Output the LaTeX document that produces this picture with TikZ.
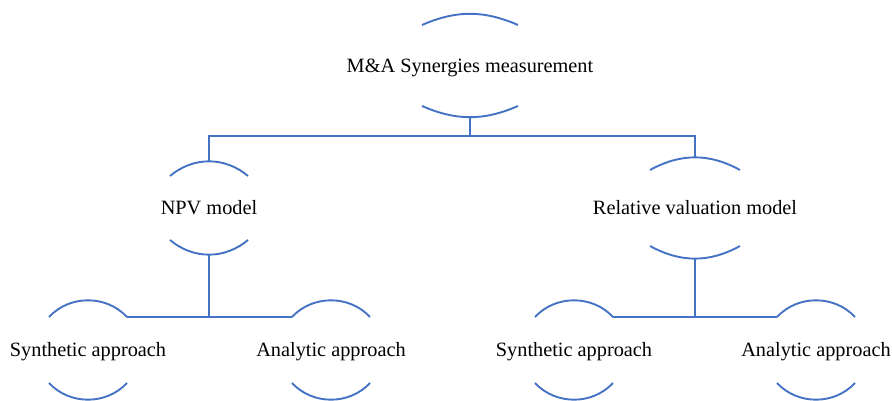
\documentclass[tikz,border=0pt]{standalone}
\usepackage{fontspec}
\setmainfont{Liberation Serif}
\definecolor{linkblue}{HTML}{4472C4}
\tikzset{link/.style={draw=linkblue, line width=1.9pt}}
\tikzset{arcline/.style={draw=linkblue, line width=1.9pt}}
\tikzset{box/.style={font=\fontsize{20.3}{24}\selectfont, inner sep=0pt, text height=16pt, text depth=2pt, minimum height=#1}, box/.default=98}

% arcs above and below a node: name, half width, end height, bend
\newcommand{\caps}[4]{%
  \draw[arcline] ([shift={(-#2,#3)}]#1.center) coordinate (#1-tl)
    to[bend left=#4] ([shift={(#2,#3)}]#1.center) coordinate (#1-tr);
  \draw[arcline] ([shift={(-#2,-#3)}]#1.center)
    to[bend right=#4] ([shift={(#2,-#3)}]#1.center);}

\begin{document}
\begin{tikzpicture}[x=1pt, y=1pt]
      \useasboundingbox (0,0) rectangle (892,401);

      \node[box=101] (top) at (470, 335.5) {M\&A Synergies measurement};
      \node[box=94] (npv) at (209, 193) {NPV model};
      \node[box=99] (rvm) at (695, 193) {Relative valuation model};

      \node[box] (s1) at (88, 51) {Synthetic approach};
      \node[box] (a1) at (331, 51) {Analytic approach};
      \node[box] (s2) at (574, 51) {Synthetic approach};
      \node[box] (a2) at (816, 51) {Analytic approach};

      \caps{top}{48}{40.5}{23.5}
      \caps{npv}{39}{32}{40}
      \caps{rvm}{45}{38}{28.7}
      \caps{s1}{39}{33}{47}
      \caps{a1}{39}{33}{47}
      \caps{s2}{39}{33}{47}
      \caps{a2}{39}{33}{47}

      \draw[link] (top.south) -- ++(0,-20) coordinate (bus) -| (npv.north);
      \draw[link] (bus) -| (rvm.north);

      \draw[link] (npv.south) -- (npv.south |- s1-tr);
      \draw[link] (s1-tr) -- (a1-tl);
      \draw[link] (rvm.south) -- (rvm.south |- s2-tr);
      \draw[link] (s2-tr) -- (a2-tl);
    \end{tikzpicture}
\end{document}
